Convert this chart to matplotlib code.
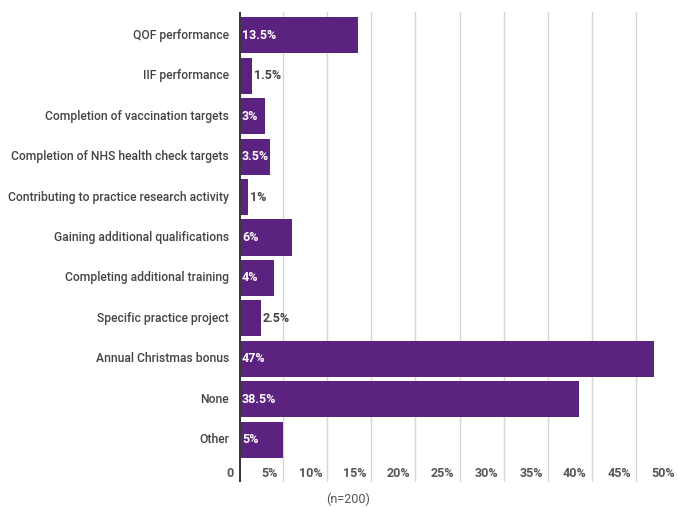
import matplotlib
matplotlib.use("Agg")
import matplotlib.pyplot as plt
from matplotlib.transforms import offset_copy

plt.rcParams['font.family'] = ['Roboto', 'DejaVu Sans']

categories = [
    "QOF performance",
    "IIF performance",
    "Completion of vaccination targets",
    "Completion of NHS health check targets",
    "Contributing to practice research activity",
    "Gaining additional qualifications",
    "Completing additional training",
    "Specific practice project",
    "Annual Christmas bonus",
    "None",
    "Other",
]
values = [13.5, 1.5, 3, 3.5, 1, 6, 4, 2.5, 47, 38.5, 5]
tick_values = [5, 10, 15, 20, 25, 30, 35, 40, 45, 50]

bar_color = "#5b2280"
text_color = "#444444"

fig = plt.figure(figsize=(6.78, 5.07), dpi=100)
ax = fig.add_axes([239 / 678, 1 - 482 / 507, 1 - 239 / 678, 470 / 507])

rows = list(range(len(categories)))
ax.barh(rows, values, height=0.89, color=bar_color, zorder=3)

ax.set_xlim(0, 49.77)
ax.set_ylim(len(categories) - 1 + 1.04, -0.57)

for t in tick_values:
    ax.axvline(t, color="#d6d6d6", linewidth=1, zorder=1)
ax.axvline(0, color="#3a3a3a", linewidth=2.2, zorder=4)

for s in ax.spines.values():
    s.set_visible(False)
ax.set_xticks([])
ax.set_yticks([])

# category names on the left of the axis
left_tr = offset_copy(ax.transData, fig=fig, x=-10, y=0, units="dots")
for r, name in zip(rows, categories):
    ax.text(0, r, name, transform=left_tr, ha="right", va="center",
            fontsize=8.7, fontweight="medium", color=text_color, clip_on=False)

# value labels: inside the bar in white, outside in grey for short bars
for r, v in zip(rows, values):
    label = f"{v:g}%"
    if v >= 3:
        tr = offset_copy(ax.transData, fig=fig, x=3, y=0, units="dots")
        ax.text(0, r, label, transform=tr, ha="left", va="center",
                fontsize=9, fontweight="bold", color="white", zorder=5)
    else:
        tr = offset_copy(ax.transData, fig=fig, x=2, y=0, units="dots")
        ax.text(v, r, label, transform=tr, ha="left", va="center",
                fontsize=9, fontweight="bold", color=text_color, zorder=5)

# x tick labels sit inside the plot, just left of each gridline
tick_row = len(categories) - 1 + 0.84
tick_tr = offset_copy(ax.transData, fig=fig, x=-5, y=0, units="dots")
ax.text(0, tick_row, "0", transform=tick_tr, ha="right", va="center",
        fontsize=9, fontweight="bold", color="#555555", clip_on=False)
for t in tick_values:
    ax.text(t, tick_row, f"{t}%", transform=tick_tr, ha="right", va="center",
            fontsize=9, fontweight="bold", color="#555555", clip_on=False)

fig.text(348 / 678, 1 - 499 / 507, "(n=200)", ha="center", va="center",
         fontsize=9, color="#555555")

fig.savefig("out.png", dpi=100)
